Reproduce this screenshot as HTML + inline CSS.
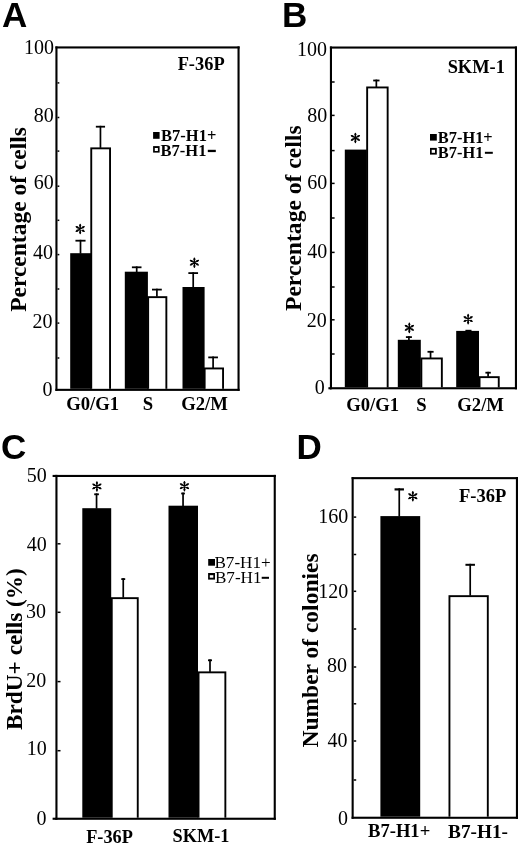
<!DOCTYPE html>
<html><head><meta charset="utf-8"><title>Figure</title>
<style>html,body{margin:0;padding:0;background:#fff;}svg{display:block;will-change:transform;}</style>
</head><body>
<svg width="520" height="845" viewBox="0 0 520 845">
<rect width="520" height="845" fill="#fff"/>
<rect x="55.40" y="46.40" width="184.20" height="2.10" fill="#000"/>
<rect x="55.40" y="388.80" width="184.20" height="2.10" fill="#000"/>
<rect x="55.40" y="46.40" width="2.10" height="344.50" fill="#000"/>
<rect x="237.50" y="46.40" width="2.10" height="344.50" fill="#000"/>
<rect x="57.50" y="116.75" width="1.80" height="1.50" fill="#000"/>
<rect x="57.50" y="150.35" width="1.80" height="1.50" fill="#000"/>
<rect x="57.50" y="185.45" width="1.80" height="1.50" fill="#000"/>
<rect x="57.50" y="219.55" width="1.80" height="1.50" fill="#000"/>
<rect x="57.50" y="253.85" width="1.80" height="1.50" fill="#000"/>
<rect x="57.50" y="288.25" width="1.80" height="1.50" fill="#000"/>
<rect x="57.50" y="322.35" width="1.80" height="1.50" fill="#000"/>
<rect x="57.50" y="357.25" width="1.80" height="1.50" fill="#000"/>
<rect x="57.50" y="82.15" width="1.80" height="1.50" fill="#000"/>
<rect x="70.20" y="253.20" width="21.00" height="135.60" fill="#000"/>
<rect x="79.65" y="239.80" width="1.70" height="13.90" fill="#000"/>
<rect x="75.45" y="239.80" width="10.10" height="1.80" fill="#000"/>
<rect x="90.30" y="147.40" width="20.70" height="241.40" fill="#000"/>
<rect x="92.20" y="149.30" width="16.90" height="239.50" fill="#fff"/>
<rect x="99.60" y="125.80" width="1.70" height="22.10" fill="#000"/>
<rect x="95.85" y="125.80" width="9.20" height="1.80" fill="#000"/>
<rect x="124.80" y="271.70" width="23.10" height="117.10" fill="#000"/>
<rect x="135.85" y="266.40" width="1.70" height="5.80" fill="#000"/>
<rect x="131.90" y="266.40" width="9.60" height="1.80" fill="#000"/>
<rect x="147.20" y="296.20" width="20.10" height="92.60" fill="#000"/>
<rect x="149.10" y="298.10" width="16.30" height="90.70" fill="#fff"/>
<rect x="156.05" y="288.70" width="1.70" height="8.00" fill="#000"/>
<rect x="152.00" y="288.70" width="9.80" height="1.80" fill="#000"/>
<rect x="182.50" y="287.00" width="22.10" height="101.80" fill="#000"/>
<rect x="192.35" y="272.20" width="1.70" height="15.30" fill="#000"/>
<rect x="188.35" y="272.20" width="9.70" height="1.80" fill="#000"/>
<rect x="203.70" y="367.50" width="20.30" height="21.30" fill="#000"/>
<rect x="205.60" y="369.40" width="16.50" height="19.40" fill="#fff"/>
<rect x="212.25" y="356.50" width="1.70" height="11.50" fill="#000"/>
<rect x="208.25" y="356.50" width="9.70" height="1.80" fill="#000"/>
<path d="M80.20 224.40L80.20 233.60M76.22 226.70L84.18 231.30M76.22 231.30L84.18 226.70" stroke="#000" stroke-width="1.35" stroke-linecap="round"/>
<circle cx="80.20" cy="225.69" r="1.08"/>
<circle cx="83.07" cy="227.34" r="1.08"/>
<circle cx="83.07" cy="230.66" r="1.08"/>
<circle cx="80.20" cy="232.31" r="1.08"/>
<circle cx="77.33" cy="230.66" r="1.08"/>
<circle cx="77.33" cy="227.34" r="1.08"/>
<path d="M194.40 258.10L194.40 267.30M190.42 260.40L198.38 265.00M190.42 265.00L198.38 260.40" stroke="#000" stroke-width="1.35" stroke-linecap="round"/>
<circle cx="194.40" cy="259.39" r="1.08"/>
<circle cx="197.27" cy="261.04" r="1.08"/>
<circle cx="197.27" cy="264.36" r="1.08"/>
<circle cx="194.40" cy="266.01" r="1.08"/>
<circle cx="191.53" cy="264.36" r="1.08"/>
<circle cx="191.53" cy="261.04" r="1.08"/>
<rect x="153.10" y="132.00" width="6.50" height="6.80" fill="#000"/>
<rect x="153.10" y="146.10" width="6.50" height="6.50" fill="#000"/>
<rect x="154.80" y="148.00" width="3.10" height="3.00" fill="#fff"/>
<rect x="207.80" y="149.80" width="8.00" height="2.30" fill="#000"/>
<rect x="329.90" y="46.50" width="187.10" height="2.10" fill="#000"/>
<rect x="329.90" y="387.20" width="187.10" height="2.10" fill="#000"/>
<rect x="329.90" y="46.50" width="2.10" height="342.80" fill="#000"/>
<rect x="514.90" y="46.50" width="2.10" height="342.80" fill="#000"/>
<rect x="328.40" y="387.20" width="2.50" height="2.10" fill="#000"/>
<rect x="332.00" y="81.25" width="2.60" height="1.50" fill="#000"/>
<rect x="332.00" y="114.65" width="2.60" height="1.50" fill="#000"/>
<rect x="332.00" y="149.85" width="2.60" height="1.50" fill="#000"/>
<rect x="332.00" y="182.65" width="2.60" height="1.50" fill="#000"/>
<rect x="332.00" y="217.25" width="2.60" height="1.50" fill="#000"/>
<rect x="332.00" y="251.65" width="2.60" height="1.50" fill="#000"/>
<rect x="332.00" y="286.25" width="2.60" height="1.50" fill="#000"/>
<rect x="332.00" y="319.05" width="2.60" height="1.50" fill="#000"/>
<rect x="332.00" y="353.25" width="2.60" height="1.50" fill="#000"/>
<rect x="344.80" y="149.60" width="22.00" height="237.60" fill="#000"/>
<rect x="366.20" y="86.50" width="22.40" height="300.70" fill="#000"/>
<rect x="368.10" y="88.40" width="18.60" height="298.80" fill="#fff"/>
<rect x="375.50" y="79.60" width="1.70" height="7.40" fill="#000"/>
<rect x="373.20" y="79.60" width="6.30" height="1.80" fill="#000"/>
<rect x="397.80" y="339.80" width="23.00" height="47.40" fill="#000"/>
<rect x="408.05" y="336.20" width="1.70" height="4.10" fill="#000"/>
<rect x="405.90" y="336.20" width="6.00" height="1.80" fill="#000"/>
<rect x="420.40" y="357.50" width="22.40" height="29.70" fill="#000"/>
<rect x="422.30" y="359.40" width="18.60" height="27.80" fill="#fff"/>
<rect x="429.70" y="350.90" width="1.70" height="7.10" fill="#000"/>
<rect x="427.50" y="350.90" width="6.10" height="1.80" fill="#000"/>
<rect x="456.20" y="330.90" width="22.80" height="56.30" fill="#000"/>
<rect x="465.40" y="329.80" width="6.10" height="1.20" fill="#000"/>
<rect x="478.60" y="376.20" width="21.10" height="11.00" fill="#000"/>
<rect x="480.50" y="378.10" width="17.30" height="9.10" fill="#fff"/>
<rect x="487.25" y="371.80" width="1.70" height="4.90" fill="#000"/>
<rect x="485.40" y="371.80" width="5.40" height="1.80" fill="#000"/>
<path d="M355.40 133.30L355.40 142.50M351.42 135.60L359.38 140.20M351.42 140.20L359.38 135.60" stroke="#000" stroke-width="1.35" stroke-linecap="round"/>
<circle cx="355.40" cy="134.59" r="1.08"/>
<circle cx="358.27" cy="136.24" r="1.08"/>
<circle cx="358.27" cy="139.56" r="1.08"/>
<circle cx="355.40" cy="141.21" r="1.08"/>
<circle cx="352.53" cy="139.56" r="1.08"/>
<circle cx="352.53" cy="136.24" r="1.08"/>
<path d="M409.35 323.25L409.35 332.45M405.37 325.55L413.33 330.15M405.37 330.15L413.33 325.55" stroke="#000" stroke-width="1.35" stroke-linecap="round"/>
<circle cx="409.35" cy="324.54" r="1.08"/>
<circle cx="412.22" cy="326.19" r="1.08"/>
<circle cx="412.22" cy="329.51" r="1.08"/>
<circle cx="409.35" cy="331.16" r="1.08"/>
<circle cx="406.48" cy="329.51" r="1.08"/>
<circle cx="406.48" cy="326.19" r="1.08"/>
<path d="M468.15 314.50L468.15 323.70M464.17 316.80L472.13 321.40M464.17 321.40L472.13 316.80" stroke="#000" stroke-width="1.35" stroke-linecap="round"/>
<circle cx="468.15" cy="315.79" r="1.08"/>
<circle cx="471.02" cy="317.44" r="1.08"/>
<circle cx="471.02" cy="320.76" r="1.08"/>
<circle cx="468.15" cy="322.41" r="1.08"/>
<circle cx="465.28" cy="320.76" r="1.08"/>
<circle cx="465.28" cy="317.44" r="1.08"/>
<rect x="430.00" y="134.00" width="6.80" height="6.60" fill="#000"/>
<rect x="430.00" y="147.90" width="6.80" height="6.70" fill="#000"/>
<rect x="431.70" y="149.80" width="3.30" height="3.00" fill="#fff"/>
<rect x="484.90" y="151.80" width="7.90" height="2.00" fill="#000"/>
<rect x="55.40" y="474.90" width="220.40" height="2.10" fill="#000"/>
<rect x="55.40" y="817.70" width="220.40" height="2.10" fill="#000"/>
<rect x="55.40" y="474.90" width="2.10" height="344.90" fill="#000"/>
<rect x="273.70" y="474.90" width="2.10" height="344.90" fill="#000"/>
<rect x="52.60" y="474.90" width="3.80" height="2.10" fill="#000"/>
<rect x="52.60" y="817.70" width="3.80" height="2.10" fill="#000"/>
<rect x="57.50" y="543.05" width="3.00" height="1.50" fill="#000"/>
<rect x="57.50" y="611.55" width="3.00" height="1.50" fill="#000"/>
<rect x="57.50" y="680.85" width="3.00" height="1.50" fill="#000"/>
<rect x="57.50" y="749.95" width="3.00" height="1.50" fill="#000"/>
<rect x="82.30" y="508.20" width="28.90" height="309.50" fill="#000"/>
<rect x="95.70" y="493.40" width="1.70" height="15.30" fill="#000"/>
<rect x="94.20" y="493.40" width="4.70" height="1.80" fill="#000"/>
<rect x="110.80" y="597.20" width="27.90" height="220.50" fill="#000"/>
<rect x="112.70" y="599.10" width="24.10" height="218.60" fill="#fff"/>
<rect x="122.40" y="578.20" width="1.70" height="19.50" fill="#000"/>
<rect x="121.30" y="578.20" width="3.90" height="1.80" fill="#000"/>
<rect x="168.50" y="505.70" width="29.50" height="312.00" fill="#000"/>
<rect x="182.20" y="492.60" width="1.70" height="13.60" fill="#000"/>
<rect x="181.20" y="492.60" width="3.70" height="1.80" fill="#000"/>
<rect x="197.60" y="671.40" width="28.70" height="146.30" fill="#000"/>
<rect x="199.50" y="673.30" width="24.90" height="144.40" fill="#fff"/>
<rect x="209.15" y="659.40" width="1.70" height="12.50" fill="#000"/>
<rect x="208.00" y="659.40" width="4.00" height="1.80" fill="#000"/>
<path d="M96.90 481.80L96.90 491.00M92.92 484.10L100.88 488.70M92.92 488.70L100.88 484.10" stroke="#000" stroke-width="1.35" stroke-linecap="round"/>
<circle cx="96.90" cy="483.09" r="1.08"/>
<circle cx="99.77" cy="484.74" r="1.08"/>
<circle cx="99.77" cy="488.06" r="1.08"/>
<circle cx="96.90" cy="489.71" r="1.08"/>
<circle cx="94.03" cy="488.06" r="1.08"/>
<circle cx="94.03" cy="484.74" r="1.08"/>
<path d="M184.45 481.55L184.45 490.75M180.47 483.85L188.43 488.45M180.47 488.45L188.43 483.85" stroke="#000" stroke-width="1.35" stroke-linecap="round"/>
<circle cx="184.45" cy="482.84" r="1.08"/>
<circle cx="187.32" cy="484.49" r="1.08"/>
<circle cx="187.32" cy="487.81" r="1.08"/>
<circle cx="184.45" cy="489.46" r="1.08"/>
<circle cx="181.58" cy="487.81" r="1.08"/>
<circle cx="181.58" cy="484.49" r="1.08"/>
<rect x="208.20" y="559.00" width="6.80" height="6.70" fill="#000"/>
<rect x="208.10" y="573.00" width="6.90" height="6.60" fill="#000"/>
<rect x="209.80" y="575.20" width="3.50" height="2.50" fill="#fff"/>
<rect x="261.70" y="576.80" width="7.30" height="2.00" fill="#000"/>
<rect x="351.60" y="477.10" width="166.40" height="2.10" fill="#000"/>
<rect x="351.60" y="816.70" width="166.40" height="2.10" fill="#000"/>
<rect x="351.60" y="477.10" width="2.10" height="341.70" fill="#000"/>
<rect x="515.90" y="477.10" width="2.10" height="341.70" fill="#000"/>
<rect x="353.70" y="516.35" width="2.50" height="1.50" fill="#000"/>
<rect x="353.70" y="553.75" width="2.50" height="1.50" fill="#000"/>
<rect x="353.70" y="590.55" width="2.50" height="1.50" fill="#000"/>
<rect x="353.70" y="628.25" width="2.50" height="1.50" fill="#000"/>
<rect x="353.70" y="666.25" width="2.50" height="1.50" fill="#000"/>
<rect x="353.70" y="703.05" width="2.50" height="1.50" fill="#000"/>
<rect x="353.70" y="740.25" width="2.50" height="1.50" fill="#000"/>
<rect x="353.70" y="779.25" width="2.50" height="1.50" fill="#000"/>
<rect x="380.40" y="516.10" width="39.80" height="300.60" fill="#000"/>
<rect x="398.40" y="488.30" width="1.70" height="28.30" fill="#000"/>
<rect x="394.55" y="488.30" width="9.40" height="2.20" fill="#000"/>
<rect x="448.50" y="595.20" width="40.25" height="221.50" fill="#000"/>
<rect x="450.40" y="597.10" width="36.45" height="219.60" fill="#fff"/>
<rect x="469.35" y="563.80" width="1.70" height="31.90" fill="#000"/>
<rect x="465.45" y="563.80" width="9.50" height="2.00" fill="#000"/>
<path d="M412.80 491.65L412.80 500.85M408.82 493.95L416.78 498.55M408.82 498.55L416.78 493.95" stroke="#000" stroke-width="1.35" stroke-linecap="round"/>
<circle cx="412.80" cy="492.94" r="1.08"/>
<circle cx="415.67" cy="494.59" r="1.08"/>
<circle cx="415.67" cy="497.91" r="1.08"/>
<circle cx="412.80" cy="499.56" r="1.08"/>
<circle cx="409.93" cy="497.91" r="1.08"/>
<circle cx="409.93" cy="494.59" r="1.08"/>
<text x="2.00" y="26.80" font-family="Liberation Sans" font-weight="bold" font-size="35">A</text>
<text x="282.10" y="26.80" font-family="Liberation Sans" font-weight="bold" font-size="35">B</text>
<text x="1.05" y="458.60" font-family="Liberation Sans" font-weight="bold" font-size="35">C</text>
<text x="296.60" y="458.85" font-family="Liberation Sans" font-weight="bold" font-size="35">D</text>
<text x="24.10" y="54.35" font-family="Liberation Serif" font-weight="normal" font-size="20">100</text>
<text x="33.65" y="121.90" font-family="Liberation Serif" font-weight="normal" font-size="20">80</text>
<text x="33.65" y="188.80" font-family="Liberation Serif" font-weight="normal" font-size="20">60</text>
<text x="32.90" y="258.75" font-family="Liberation Serif" font-weight="normal" font-size="20">40</text>
<text x="32.40" y="327.75" font-family="Liberation Serif" font-weight="normal" font-size="20">20</text>
<text x="42.45" y="395.75" font-family="Liberation Serif" font-weight="normal" font-size="20">0</text>
<text x="26.40" y="311.85" font-family="Liberation Serif" font-weight="bold" font-size="23.5" transform="rotate(-90 26.40 311.85)">Percentage of cells</text>
<text x="177.65" y="69.95" font-family="Liberation Serif" font-weight="bold" font-size="18.4">F-36P</text>
<text x="161.10" y="141.30" font-family="Liberation Serif" font-weight="bold" font-size="16.5">B7-H1+</text>
<text x="160.60" y="155.90" font-family="Liberation Serif" font-weight="bold" font-size="16.5">B7-H1</text>
<text x="66.15" y="409.55" font-family="Liberation Serif" font-weight="bold" font-size="18.7">G0/G1</text>
<text x="142.65" y="409.55" font-family="Liberation Serif" font-weight="bold" font-size="18.7">S</text>
<text x="181.20" y="409.55" font-family="Liberation Serif" font-weight="bold" font-size="18.7">G2/M</text>
<text x="297.00" y="56.00" font-family="Liberation Serif" font-weight="normal" font-size="20">100</text>
<text x="307.25" y="122.20" font-family="Liberation Serif" font-weight="normal" font-size="20">80</text>
<text x="307.25" y="188.95" font-family="Liberation Serif" font-weight="normal" font-size="20">60</text>
<text x="307.15" y="257.80" font-family="Liberation Serif" font-weight="normal" font-size="20">40</text>
<text x="306.65" y="327.15" font-family="Liberation Serif" font-weight="normal" font-size="20">20</text>
<text x="314.75" y="394.30" font-family="Liberation Serif" font-weight="normal" font-size="20">0</text>
<text x="300.90" y="311.00" font-family="Liberation Serif" font-weight="bold" font-size="23.6" transform="rotate(-90 300.90 311.00)">Percentage of cells</text>
<text x="447.65" y="72.65" font-family="Liberation Serif" font-weight="bold" font-size="18.4">SKM-1</text>
<text x="437.85" y="142.95" font-family="Liberation Serif" font-weight="bold" font-size="16.4">B7-H1+</text>
<text x="437.85" y="158.20" font-family="Liberation Serif" font-weight="bold" font-size="16.4">B7-H1</text>
<text x="346.15" y="410.60" font-family="Liberation Serif" font-weight="bold" font-size="18.7">G0/G1</text>
<text x="416.35" y="410.60" font-family="Liberation Serif" font-weight="bold" font-size="18.7">S</text>
<text x="457.25" y="411.15" font-family="Liberation Serif" font-weight="bold" font-size="18.7">G2/M</text>
<text x="26.75" y="482.25" font-family="Liberation Serif" font-weight="normal" font-size="20">50</text>
<text x="26.65" y="550.95" font-family="Liberation Serif" font-weight="normal" font-size="20">40</text>
<text x="26.05" y="618.15" font-family="Liberation Serif" font-weight="normal" font-size="20">30</text>
<text x="26.15" y="686.80" font-family="Liberation Serif" font-weight="normal" font-size="20">20</text>
<text x="26.80" y="755.45" font-family="Liberation Serif" font-weight="normal" font-size="20">10</text>
<text x="36.50" y="825.12" font-family="Liberation Serif" font-weight="normal" font-size="20">0</text>
<text x="21.80" y="729.95" font-family="Liberation Serif" font-weight="bold" font-size="23.25" transform="rotate(-90 21.80 729.95)">BrdU+ cells (%)</text>
<text x="214.45" y="568.05" font-family="Liberation Serif" font-weight="normal" font-size="17.1">B7-H1+</text>
<text x="214.95" y="582.80" font-family="Liberation Serif" font-weight="normal" font-size="17.1">B7-H1</text>
<text x="86.20" y="843.00" font-family="Liberation Serif" font-weight="bold" font-size="18.3">F-36P</text>
<text x="172.50" y="842.35" font-family="Liberation Serif" font-weight="bold" font-size="18.3">SKM-1</text>
<text x="318.25" y="523.45" font-family="Liberation Serif" font-weight="normal" font-size="20">160</text>
<text x="318.25" y="597.50" font-family="Liberation Serif" font-weight="normal" font-size="20">120</text>
<text x="327.05" y="672.30" font-family="Liberation Serif" font-weight="normal" font-size="20">80</text>
<text x="327.55" y="747.00" font-family="Liberation Serif" font-weight="normal" font-size="20">40</text>
<text x="337.88" y="825.12" font-family="Liberation Serif" font-weight="normal" font-size="20">0</text>
<text x="317.90" y="747.50" font-family="Liberation Serif" font-weight="bold" font-size="23.5" transform="rotate(-90 317.90 747.50)">Number of colonies</text>
<text x="459.00" y="501.75" font-family="Liberation Serif" font-weight="bold" font-size="18.5">F-36P</text>
<text x="368.00" y="837.12" font-family="Liberation Serif" font-weight="bold" font-size="18.6">B7-H1+</text>
<text x="448.05" y="837.60" font-family="Liberation Serif" font-weight="bold" font-size="19.3">B7-H1-</text>
</svg>
</body></html>
